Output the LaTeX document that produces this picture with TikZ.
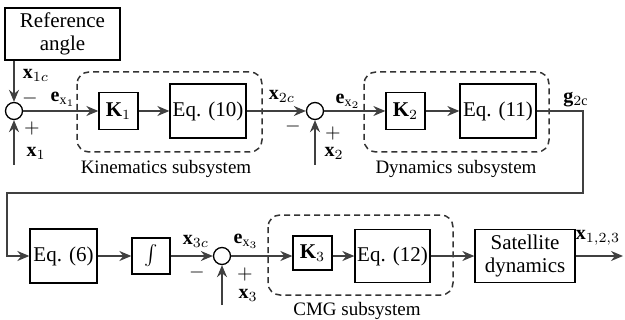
\documentclass[tikz,border=0pt]{standalone}
\usepackage{fontspec}
\setmainfont{Liberation Serif}
\usetikzlibrary{arrows.meta}
\begin{document}
\begin{tikzpicture}[x=0.5pt,y=-0.5pt,
  blk/.style={draw=black, line width=0.65pt, inner sep=0pt, align=center, font=\rmfamily\fontsize{10.5}{11.5}\selectfont},
  sumc/.style={draw=black, circle, minimum size=8.5pt, inner sep=0pt, line width=0.65pt},
  subsys/.style={draw=black!80, dashed, dash pattern=on 3pt off 2pt, rounded corners=6pt, line width=0.75pt},
  conn/.style={draw=black!75, line width=0.7pt, -{Stealth[length=6pt,width=5pt]}},
  lbl/.style={font=\rmfamily\fontsize{10}{11}\selectfont, inner sep=0pt},
  captxt/.style={font=\rmfamily\fontsize{9.5}{11}\selectfont, inner sep=0pt},
  ]
\useasboundingbox (0,0) rectangle (625,320);

% subsystem frames
\draw[subsys] (77,72) rectangle (262,152);
\draw[subsys] (364,72) rectangle (549,152);
\draw[subsys] (268,215) rectangle (453,295);
\node[captxt] (capk) at (166,169) {Kinematics subsystem};
\node[captxt] (capd) at (456,169) {Dynamics subsystem};
\node[captxt] (capc) at (357,311) {CMG subsystem};

% blocks
\node[blk, minimum width=57.5pt, minimum height=26pt] (ref) at (62.5,34) {Reference\\angle};
\node[sumc] (s1) at (14,111) {};
\node[blk, minimum width=19.5pt, minimum height=18.5pt] (k1) at (118.5,111) {$\mathbf{K}_1$};
\node[blk, minimum width=38pt, minimum height=27pt] (eq10) at (208,111) {Eq. (10)};
\node[sumc] (s2) at (315,111) {};
\node[blk, minimum width=19.5pt, minimum height=18.5pt] (k2) at (405.5,111) {$\mathbf{K}_2$};
\node[blk, minimum width=38pt, minimum height=27pt] (eq11) at (498,111) {Eq. (11)};

\node[blk, minimum width=33.5pt, minimum height=27pt] (eq6) at (63.5,256) {Eq. (6)};
\node[blk, minimum width=19pt, minimum height=18pt] (int) at (151,256) {$\int$};
\node[sumc] (s3) at (222,256) {};
\node[blk, minimum width=19.5pt, minimum height=17pt] (k3) at (312.5,253) {$\mathbf{K}_3$};
\node[blk, minimum width=37.5pt, minimum height=26.5pt] (eq12) at (392.5,256) {Eq. (12)};
\node[blk, minimum width=50pt, minimum height=26.5pt] (sat) at (525,256) {Satellite\\dynamics};

% free ends
\coordinate (in1) at (14,165);
\coordinate (in2) at (315,165);
\coordinate (in3) at (222,305);
\coordinate (c1) at (583,193);
\coordinate (c2) at (7,193);
\coordinate (out) at (623,256);

% connectors
\draw[conn] (s1 |- ref.south) -- (s1.north);
\draw[conn] (in1) -- (s1.south);
\draw[conn] (s1.east) -- (k1.west);
\draw[conn] (k1.east) -- (eq10.west);
\draw[conn] (eq10.east) -- (s2.west);
\draw[conn] (in2) -- (s2.south);
\draw[conn] (s2.east) -- (k2.west);
\draw[conn] (k2.east) -- (eq11.west);
\draw[conn] (eq11.east) -| (c1) -- (c2) |- (eq6.west);
\draw[conn] (eq6.east) -- (int.west);
\draw[conn] (int.east) -- (s3.west);
\draw[conn] (in3) -- (s3.south);
\draw[conn] (s3.east) -- (k3.west |- s3.east);
\draw[conn] (k3.east |- s3.east) -- (eq12.west |- s3.east);
\draw[conn] (eq12.east) -- (sat.west);
\draw[conn] (sat.east) -- (out);

% labels
\node[lbl] (lx1c) at (36,75) {$\mathbf{x}_{1c}$};
\node[lbl] (lm1) at (30,99) {$-$};
\node[lbl] (le1) at (63,99) {$\mathbf{e}_{\mathrm{x}_1}$};
\node[lbl] (lp1) at (32,129) {$+$};
\node[lbl] (lx1) at (36,153) {$\mathbf{x}_1$};

\node[lbl] (lx2c) at (282,96) {$\mathbf{x}_{2c}$};
\node[lbl] (lm2) at (293,127) {$-$};
\node[lbl] (le2) at (348,101) {$\mathbf{e}_{\mathrm{x}_2}$};
\node[lbl] (lp2) at (333,134) {$+$};
\node[lbl] (lx2) at (334,153) {$\mathbf{x}_2$};
\node[lbl] (lg2c) at (576,100) {$\mathbf{g}_{2\mathrm{c}}$};

\node[lbl] (lx3c) at (196,241) {$\mathbf{x}_{3c}$};
\node[lbl] (lm3) at (197,272) {$-$};
\node[lbl] (le3) at (246,241) {$\mathbf{e}_{\mathrm{x}_3}$};
\node[lbl] (lp3) at (245,274) {$+$};
\node[lbl] (lx3) at (248,295) {$\mathbf{x}_3$};
\node[lbl] (lx123) at (598,238) {$\mathbf{x}_{1,2,3}$};
\end{tikzpicture}
\end{document}
